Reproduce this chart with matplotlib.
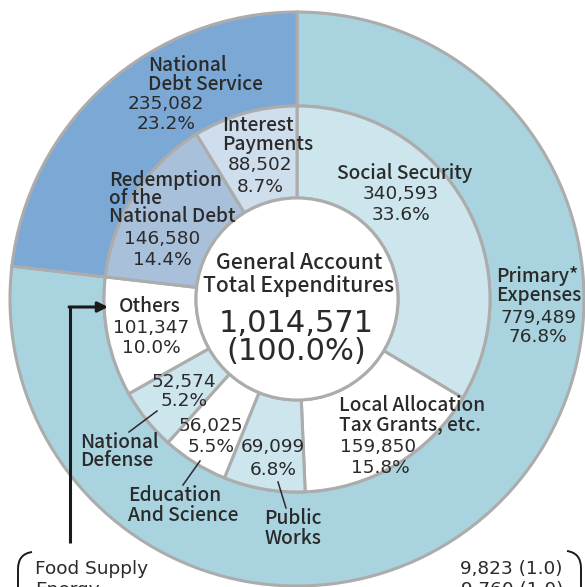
import matplotlib.pyplot as plt
from matplotlib.font_manager import FontProperties
from matplotlib.patches import Circle, PathPatch
from matplotlib.path import Path

W, H = 585, 587
CX, CY = 297, 299          # centre of the rings, pixel coords (y down)
R_OUT, R_MID, R_IN = 287, 193, 101

# outer ring
outer_labels = ["Primary* Expenses", "National Debt Service"]
outer_values = [779489, 235082]
outer_colors = ["#a8d3df", "#7ca8d5"]

# inner ring, clockwise from 12 o'clock
inner_labels = ["Social Security", "Local Allocation Tax Grants, etc.", "Public Works",
                "Education And Science", "National Defense", "Others",
                "Redemption of the National Debt", "Interest Payments"]
inner_values = [340593, 159850, 69099, 56025, 52574, 101347, 146580, 88502]
inner_colors = ["#cde6ee", "#ffffff", "#cde6ee", "#ffffff", "#cde6ee", "#ffffff",
                "#a9c0da", "#cfdeed"]

total_value = "1,014,571"
others_rows = [("Food Supply", "9,823 (1.0)"), ("Energy", "9,760 (1.0)")]

NAME_FONT = ["Noto Sans CJK JP", "DejaVu Sans"]
NUM_FONT = ["DejaVu Sans"]
TXT = "#2a2a2a"
EDGE = "#acacac"


def Y(y):
    return H - y


fig = plt.figure(figsize=(W / 100, H / 100), dpi=100)
ax = fig.add_axes([0, 0, 1, 1])
renderer = fig.canvas.get_renderer()

wp = dict(edgecolor=EDGE, linewidth=2.2)
ax.pie(outer_values, colors=outer_colors, radius=R_OUT, center=(CX, Y(CY)),
       startangle=90, counterclock=False, frame=True,
       wedgeprops=dict(width=R_OUT - R_MID, **wp))
ax.pie(inner_values, colors=inner_colors, radius=R_MID, center=(CX, Y(CY)),
       startangle=90, counterclock=False, frame=True,
       wedgeprops=dict(width=R_MID - R_IN, **wp))
ax.add_patch(Circle((CX, Y(CY)), R_IN, facecolor="white", edgecolor=EDGE, linewidth=2.2, zorder=3))
ax.set_xlim(0, W)
ax.set_ylim(0, H)
ax.set_aspect("equal")
ax.axis("off")


def block(x, y0, texts, step=19, ha="center", size=13.8, num=False):
    # one text object per label; y0 is the centre of the first line in pixels
    fp = FontProperties(family=NUM_FONT if num else NAME_FONT,
                        weight="normal" if num else "medium", size=size)
    _, h, d = renderer.get_text_width_height_descent("lp", fp, ismath=False)
    # matplotlib puts baselines (h - d) * linespacing + d apart
    ls = (step - d) / (h - d)
    yc = y0 + (len(texts) - 1) * step / 2
    ax.text(x, Y(yc), "\n".join(texts), ha=ha, va="center", multialignment=ha,
            fontproperties=fp, color=TXT, linespacing=ls, zorder=5)


def pct(v):
    return f"{v / sum(outer_values) * 100:.1f}%"


def numblock(x, y0, v, step=20, size=13.3):
    block(x, y0, [f"{v:,}", pct(v)], step=step, size=size, num=True)


# outer ring labels
block(148, 65, ["National", "Debt Service"], ha="left")
numblock(166, 104, outer_values[1])
block(496, 276, ["Primary*", "Expenses"], ha="left")
numblock(538, 318, outer_values[0], step=19)

# inner ring labels
block(405, 173, ["Social Security"])
numblock(401, 194, inner_values[0], step=21)
block(339, 405, ["Local Allocation", "Tax Grants, etc."], ha="left")
block(340, 447, [f"{inner_values[1]:,}"], ha="left", size=13.3, num=True)
block(380, 468, [pct(inner_values[1])], size=13.3, num=True)
numblock(273, 447, inner_values[2], step=23)
block(293, 518, ["Public", "Works"], step=20)
numblock(211, 426, inner_values[3], step=21)
block(128, 495, ["Education", "And Science"], ha="left", step=20)
numblock(184, 382, inner_values[4], step=19)
block(80, 442, ["National", "Defense"], ha="left", step=18)
block(150, 306, ["Others"])
numblock(151, 328, inner_values[5])
block(109, 180, ["Redemption", "of the", "National Debt"], ha="left", step=18)
numblock(162, 239, inner_values[6], step=21)
block(222, 125, ["Interest", "Payments"], ha="left")
numblock(260, 165, inner_values[7], step=22)

# leader lines
for (x0, y0), (x1, y1) in [((129, 432), (157, 411)), ((183, 485), (200, 461)),
                           ((278, 482), (286, 508))]:
    ax.plot([x0, x1], [Y(y0), Y(y1)], color=TXT, lw=1.1, zorder=5)

# centre text
block(CX + 2, 263, ["General Account", "Total Expenditures"], step=23, size=15.2)
block(CX - 1, 323, [total_value, "(100.0%)"], step=29, size=22, num=True)

# arrow from the breakdown box to "Others"
ax.plot([70, 70], [Y(543), Y(307)], color="#1a1a1a", lw=2.2, solid_capstyle="butt", zorder=6)
ax.annotate("", xy=(108, Y(307)), xytext=(69, Y(307)),
            arrowprops=dict(arrowstyle="-|>,head_length=0.6,head_width=0.3",
                            color="#1a1a1a", lw=2.2, shrinkA=0, shrinkB=0), zorder=6)

# brackets of the breakdown box
left = Path([(32, Y(552)), (18, Y(554)), (18, Y(569)), (18, Y(600))],
            [Path.MOVETO, Path.CURVE3, Path.CURVE3, Path.LINETO])
right = Path([(567, Y(551)), (581, Y(553)), (581, Y(568)), (581, Y(600))],
             [Path.MOVETO, Path.CURVE3, Path.CURVE3, Path.LINETO])
for p in (left, right):
    ax.add_patch(PathPatch(p, facecolor="none", edgecolor="#1a1a1a", lw=1.4, zorder=6))

block(35, 569, [r[0] for r in others_rows], step=21, ha="left", size=13.3, num=True)
block(563, 569, [r[1] for r in others_rows], step=21, ha="right", size=13.3, num=True)

fig.savefig("out.png", dpi=100)
